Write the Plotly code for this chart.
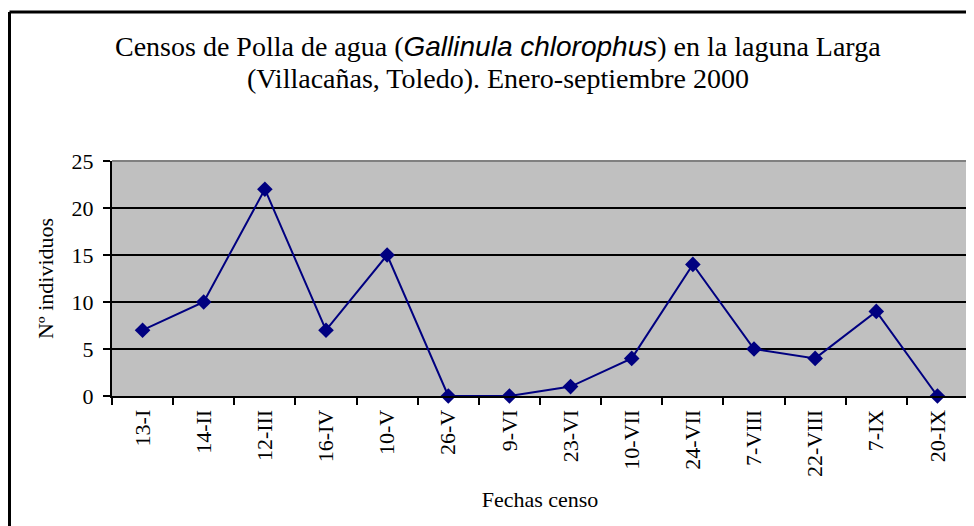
import plotly.graph_objects as go

fechas = ["13-I", "14-II", "12-III", "16-IV", "10-V", "26-V", "9-VI", "23-VI",
          "10-VII", "24-VII", "7-VIII", "22-VIII", "7-IX", "20-IX"]
individuos = [7, 10, 22, 7, 15, 0, 0, 1, 4, 14, 5, 4, 9, 0]
y_ticks = [0, 5, 10, 15, 20, 25]

title_line1 = ("Censos de Polla de agua (<i><span style='font-family:Liberation Sans, Arial, sans-serif'>"
               "Gallinula chlorophus</span></i>) en la laguna Larga")
title_line2 = "(Villacañas, Toledo). Enero-septiembre 2000"

serif = "Liberation Serif, Times New Roman, serif"

fig = go.Figure()
fig.add_trace(go.Scatter(
    x=fechas, y=individuos, mode="lines+markers",
    line=dict(color="#000080", width=2),
    marker=dict(symbol="diamond", size=12, color="#000080"),
    cliponaxis=False, showlegend=False,
))

# page body has an 8px margin: figure coordinates = screen - 8
W, H = 966, 518
L, R, T, B = 104, 6, 153, 130
pw = W - L - R
ph = H - T - B


def px(xf):
    return (xf - L) / pw


def py(yf):
    return 1 + (T - yf) / ph


fig.update_layout(
    width=W, height=H,
    margin=dict(l=L, r=R, t=T, b=B),
    paper_bgcolor="white", plot_bgcolor="#C0C0C0",
    font=dict(family=serif, color="black", size=22),
    xaxis=dict(
        type="category", tickson="boundaries", ticks="outside", ticklen=7,
        tickcolor="black", tickwidth=1.5, tickangle=-90,
        tickfont=dict(family=serif, size=22), ticklabelstandoff=3,
        showline=True, linecolor="black", linewidth=2, showgrid=False,
        range=[-0.5, 13.5],
        title=dict(text="Fechas censo", font=dict(family=serif, size=22), standoff=16),
    ),
    yaxis=dict(
        range=[0, 25], tickvals=y_ticks, ticks="outside", ticklen=7,
        tickcolor="black", tickwidth=1.5, tickfont=dict(family=serif, size=22),
        ticklabelstandoff=5,
        showline=True, linecolor="black", linewidth=2,
        showgrid=True, gridcolor="black", gridwidth=1.5, zeroline=False,
        title=dict(text="Nº individuos", font=dict(family=serif, size=22), standoff=12),
    ),
    annotations=[
        dict(text=title_line1, xref="paper", yref="paper", x=px(489.5), y=py(39),
             xanchor="center", yanchor="middle", showarrow=False,
             font=dict(family=serif, size=28, color="black")),
        dict(text=title_line2, xref="paper", yref="paper", x=px(489.5), y=py(71),
             xanchor="center", yanchor="middle", showarrow=False,
             font=dict(family=serif, size=28, color="black")),
    ],
    shapes=[
        dict(type="line", xref="paper", yref="paper", x0=0, x1=1, y0=1, y1=1,
             line=dict(color="#808080", width=2)),
        dict(type="line", xref="paper", yref="paper", x0=1, x1=1, y0=0, y1=1,
             line=dict(color="#808080", width=2)),
        dict(type="line", xref="paper", yref="paper",
             x0=px(1.5), x1=px(W + 5), y0=py(4), y1=py(4),
             line=dict(color="black", width=3)),
        dict(type="line", xref="paper", yref="paper",
             x0=px(1.5), x1=px(1.5), y0=py(H + 5), y1=py(4),
             line=dict(color="black", width=3)),
    ],
)

fig.write_html("out.html")
